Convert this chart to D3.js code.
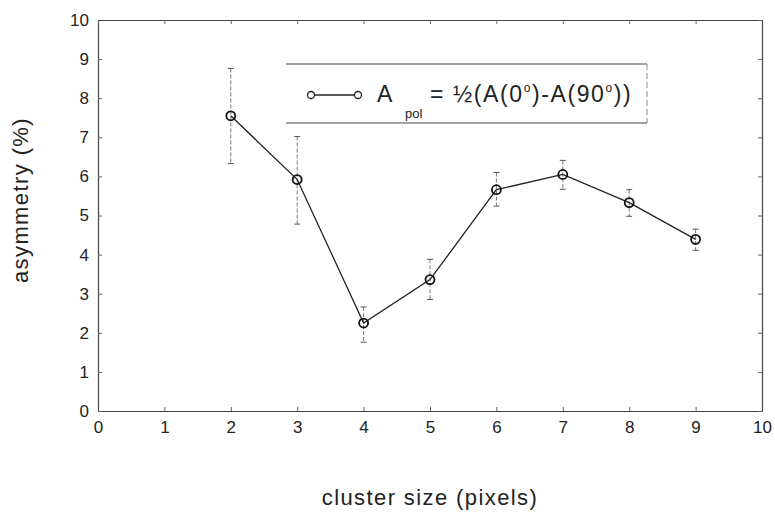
<html>
<head>
<meta charset="utf-8">
<script src="https://cdn.jsdelivr.net/npm/d3@7"></script>
<style>
 body { margin: 0; background: #fff; }
 text { font-family: "Liberation Sans", Arial, sans-serif; fill: #222; }
</style>
</head>
<body>
<svg id="chart" width="775" height="515"></svg>
<script>
 // data
 var clusterSize = [2, 3, 4, 5, 6, 7, 8, 9];
 var asymmetry   = [7.55, 5.92, 2.25, 3.36, 5.66, 6.05, 5.33, 4.39];
 var errTop      = [8.76, 7.02, 2.66, 3.88, 6.10, 6.41, 5.66, 4.65];
 var errBottom   = [6.33, 4.78, 1.76, 2.85, 5.24, 5.67, 4.98, 4.11];
 var xTicks = [0, 1, 2, 3, 4, 5, 6, 7, 8, 9, 10];
 var yTicks = [0, 1, 2, 3, 4, 5, 6, 7, 8, 9, 10];

 var svg = d3.select('#chart');
 var plotLeft = 98, plotRight = 762, plotTop = 20, plotBottom = 411;

 var x = d3.scaleLinear().domain([0, 10]).range([plotLeft, plotRight]);
 var y = d3.scaleLinear().domain([0, 10]).range([plotBottom, plotTop]);

 // axes with inward ticks
 svg.append('g').attr('transform', 'translate(0,' + plotBottom + ')')
    .call(d3.axisBottom(x).tickValues(xTicks).tickSizeInner(-4).tickSizeOuter(0).tickPadding(10))
    .call(g => g.selectAll('text').attr('font-size', 17).attr('fill', '#333'));
 svg.append('g').attr('transform', 'translate(' + plotLeft + ',0)')
    .call(d3.axisLeft(y).tickValues(yTicks).tickSizeInner(-4).tickSizeOuter(0).tickPadding(9))
    .call(g => g.selectAll('text').attr('font-size', 17).attr('fill', '#333'));
 svg.append('g').attr('transform', 'translate(0,' + plotTop + ')')
    .call(d3.axisTop(x).tickValues(xTicks).tickSizeInner(-4).tickSizeOuter(0).tickFormat(''));
 svg.append('g').attr('transform', 'translate(' + plotRight + ',0)')
    .call(d3.axisRight(y).tickValues(yTicks).tickSizeInner(-4).tickSizeOuter(0).tickFormat(''));
 svg.selectAll('.domain').attr('stroke', '#444').attr('stroke-width', 1.2);
 svg.selectAll('.tick line').attr('stroke', '#666');

 // error bars
 var eb = svg.append('g').selectAll('g').data(clusterSize).enter().append('g');
 eb.append('line')
   .attr('x1', d => x(d)).attr('x2', d => x(d))
   .attr('y1', (d, i) => y(errTop[i])).attr('y2', (d, i) => y(errBottom[i]))
   .attr('stroke', '#777').attr('stroke-width', 1).attr('stroke-dasharray', '4,2');
 eb.append('line')
   .attr('x1', d => x(d) - 3).attr('x2', d => x(d) + 3)
   .attr('y1', (d, i) => y(errTop[i])).attr('y2', (d, i) => y(errTop[i]))
   .attr('stroke', '#555');
 eb.append('line')
   .attr('x1', d => x(d) - 3).attr('x2', d => x(d) + 3)
   .attr('y1', (d, i) => y(errBottom[i])).attr('y2', (d, i) => y(errBottom[i]))
   .attr('stroke', '#555');

 // line + markers
 var line = d3.line().x(d => x(d[0])).y(d => y(d[1]));
 svg.append('path')
    .datum(clusterSize.map((d, i) => [d, asymmetry[i]]))
    .attr('d', line).attr('fill', 'none').attr('stroke', '#222').attr('stroke-width', 1.3);
 svg.append('g').selectAll('circle').data(clusterSize).enter().append('circle')
    .attr('cx', d => x(d)).attr('cy', (d, i) => y(asymmetry[i])).attr('r', 4.5)
    .attr('fill', 'none').attr('stroke', '#111').attr('stroke-width', 1.8);

 // legend
 var lg = svg.append('g');
 lg.append('line').attr('x1', 286).attr('x2', 647).attr('y1', 64).attr('y2', 64).attr('stroke', '#444').attr('stroke-width', 1.2);
 lg.append('line').attr('x1', 286).attr('x2', 647).attr('y1', 123).attr('y2', 123).attr('stroke', '#444').attr('stroke-width', 1.2);
 lg.append('line').attr('x1', 647).attr('x2', 647).attr('y1', 64).attr('y2', 123).attr('stroke', '#888').attr('stroke-dasharray', '6,3');
 lg.append('line').attr('x1', 311).attr('x2', 358).attr('y1', 95).attr('y2', 95).attr('stroke', '#222').attr('stroke-width', 1.3);
 lg.selectAll('circle').data([311, 358]).enter().append('circle')
   .attr('cx', d => d).attr('cy', 95).attr('r', 3.5).attr('fill', '#fff').attr('stroke', '#222').attr('stroke-width', 1.3);
 var lt = lg.append('text').attr('x', 377).attr('y', 102).attr('font-size', 23);
 lt.append('tspan').text('A');
 lt.append('tspan').attr('font-size', 13).attr('x', 405).attr('y', 118).text('pol');
 var rest = lt.append('tspan').attr('x', 430).attr('y', 102).attr('letter-spacing', 1.6);
 rest.append('tspan').text('= ½(A(0');
 rest.append('tspan').attr('font-size', 12).attr('dy', -10).text('o');
 rest.append('tspan').attr('dy', 10).text(')-A(90');
 rest.append('tspan').attr('font-size', 12).attr('dy', -10).text('o');
 rest.append('tspan').attr('dy', 10).text('))');

 // axis titles
 svg.append('text').attr('x', 430).attr('y', 505).attr('text-anchor', 'middle')
    .attr('font-size', 22).attr('letter-spacing', 1.4).text('cluster size (pixels)');
 svg.append('text').attr('transform', 'translate(28,200) rotate(-90)').attr('text-anchor', 'middle')
    .attr('font-size', 22).attr('letter-spacing', 1.4).text('asymmetry (%)');
</script>
</body>
</html>
